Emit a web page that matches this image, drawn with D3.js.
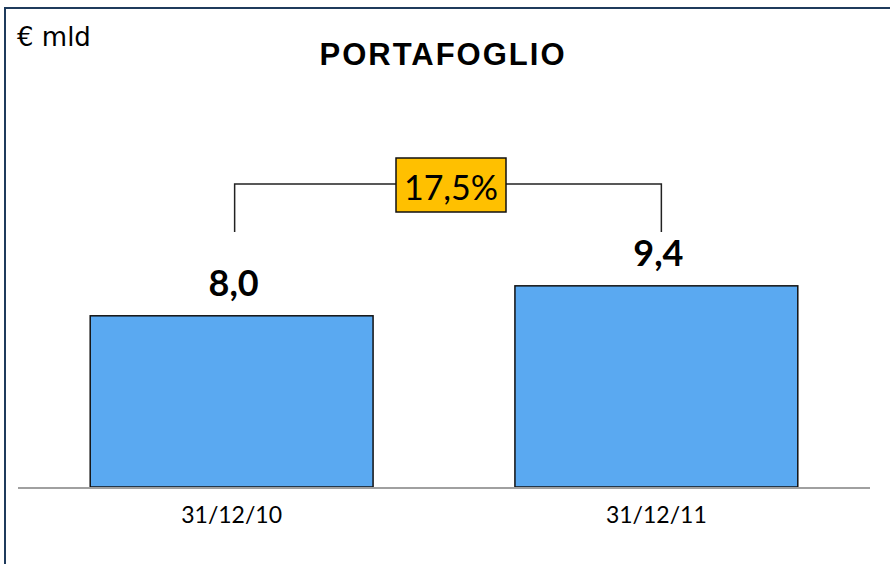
<!DOCTYPE html>
<html lang="it">
<head>
<meta charset="UTF-8">
<title>Portafoglio</title>
<style>
  body, html { margin: 0; padding: 0; background: #ffffff; }
  svg { display: block; }
</style>
</head>
<body>
<div id="chart"></div>
<script src="https://d3js.org/d3.v7.min.js"></script>
<script>
// chart data
const categories = ["31/12/10", "31/12/11"];
const values = [8.0, 9.4];
const valueLabels = ["8,0", "9,4"];
const growthLabel = "17,5%";
const unitLabel = "€ mld";
const title = "PORTAFOGLIO";

const width = 890, height = 564;
const baseY = 487;

const svg = d3.select("#chart").append("svg")
  .attr("width", width)
  .attr("height", height);

// frame (runs off the right and bottom edge)
svg.append("rect")
  .attr("x", 5).attr("y", 8)
  .attr("width", 900).attr("height", 600)
  .attr("fill", "none")
  .attr("stroke", "#1f3b5c")
  .attr("stroke-width", 2);

const x = d3.scaleBand()
  .domain(categories)
  .range([18, 870])
  .paddingInner(0.334)
  .paddingOuter(0.17);

const y = d3.scaleLinear()
  .domain([0, 10])
  .range([baseY, baseY - 214]);

// bars
svg.selectAll("rect.bar")
  .data(values)
  .enter().append("rect")
  .attr("class", "bar")
  .attr("x", (d, i) => x(categories[i]))
  .attr("y", d => y(d))
  .attr("width", x.bandwidth())
  .attr("height", d => y(0) - y(d))
  .attr("fill", "#5aa9f1")
  .attr("stroke", "#111")
  .attr("stroke-width", 1.5);

// baseline
svg.append("line")
  .attr("x1", 18).attr("x2", 870)
  .attr("y1", baseY + 1).attr("y2", baseY + 1)
  .attr("stroke", "#a0a0a0")
  .attr("stroke-width", 2);

// category labels
svg.selectAll("text.cat")
  .data(categories)
  .enter().append("text")
  .attr("class", "cat")
  .attr("x", d => x(d) + x.bandwidth() / 2)
  .attr("y", 523)
  .attr("text-anchor", "middle")
  .attr("font-family", "Lato, sans-serif")
  .attr("font-size", 23)
  .attr("fill", "#000")
  .text(d => d);

// value labels
svg.selectAll("text.val")
  .data(values)
  .enter().append("text")
  .attr("class", "val")
  .attr("x", (d, i) => x(categories[i]) + x.bandwidth() / 2 + 2)
  .attr("y", d => y(d) - 20)
  .attr("text-anchor", "middle")
  .attr("font-family", "Lato, sans-serif")
  .attr("font-weight", "bold")
  .attr("font-size", 36)
  .attr("fill", "#000")
  .text((d, i) => valueLabels[i]);

// growth bracket
const bx1 = x(categories[0]) + x.bandwidth() / 2 + 3;
const bx2 = x(categories[1]) + x.bandwidth() / 2 + 5;
const bTop = 184, bBottom = 232;
const boxW = 110, boxH = 54, boxCx = 451;

svg.append("path")
  .attr("d", `M${bx1},${bBottom}V${bTop}H${boxCx - boxW / 2}M${boxCx + boxW / 2},${bTop}H${bx2}V${bBottom}`)
  .attr("fill", "none")
  .attr("stroke", "#222")
  .attr("stroke-width", 1.5);

svg.append("rect")
  .attr("x", boxCx - boxW / 2).attr("y", bTop - 26)
  .attr("width", boxW).attr("height", boxH)
  .attr("fill", "#ffc000")
  .attr("stroke", "#111")
  .attr("stroke-width", 1.5);

svg.append("text")
  .attr("x", boxCx).attr("y", 200)
  .attr("text-anchor", "middle")
  .attr("font-family", "Lato, sans-serif")
  .attr("font-size", 34)
  .attr("fill", "#000")
  .text(growthLabel);

// title and unit
svg.append("text")
  .attr("x", 443).attr("y", 65)
  .attr("text-anchor", "middle")
  .attr("font-family", "'Liberation Sans', Arial, sans-serif")
  .attr("font-weight", "bold")
  .attr("font-size", 31)
  .attr("letter-spacing", 2)
  .attr("fill", "#000")
  .text(title);

svg.append("text")
  .attr("x", 17).attr("y", 46)
  .attr("font-family", "'DejaVu Sans', Verdana, sans-serif")
  .attr("font-size", 26)
  .attr("fill", "#000")
  .text(unitLabel);
</script>
</body>
</html>
